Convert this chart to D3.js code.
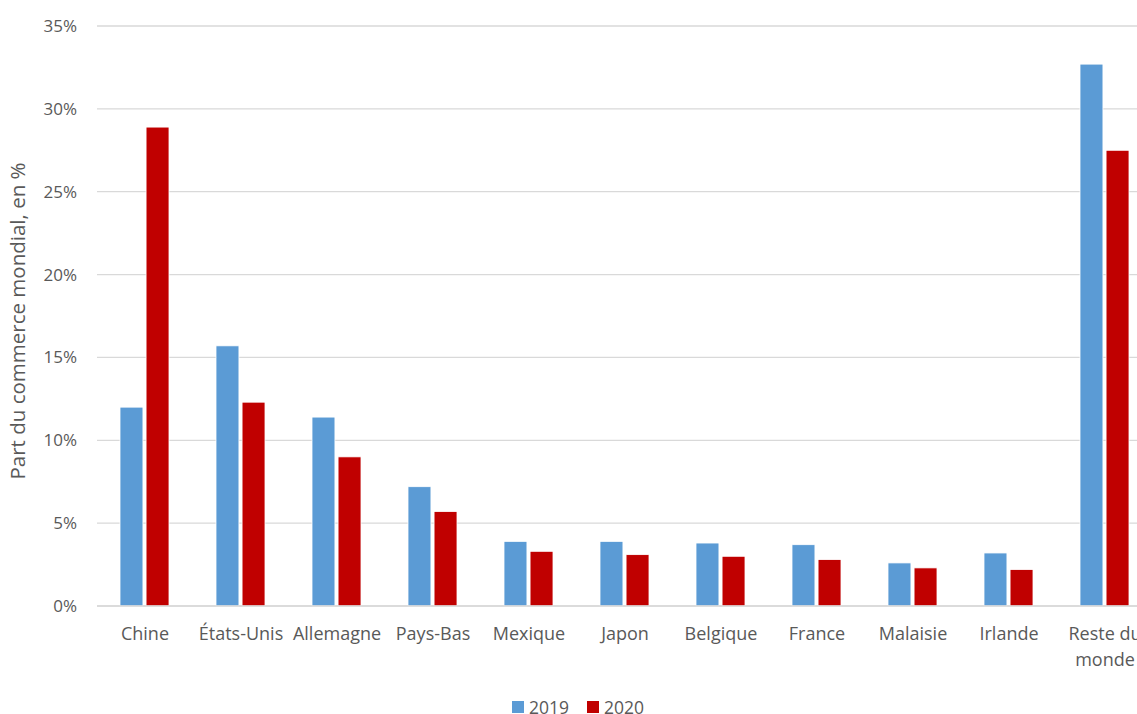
<!DOCTYPE html>
<meta charset="utf-8">
<style>
body { margin: 0; background: #fff; }
text { font-family: "Open Sans", "Noto Sans", sans-serif; fill: #595959; }
.tick text { font-size: 17px; fill: #595959; }
</style>
<svg width="1137" height="714"></svg>
<script src="https://d3js.org/d3.v7.min.js"></script>
<script>
var categories = ["Chine", "États-Unis", "Allemagne", "Pays-Bas", "Mexique", "Japon",
                  "Belgique", "France", "Malaisie", "Irlande", "Reste du monde"];
var years = ["2019", "2020"];
var values2019 = [12.0, 15.7, 11.4, 7.2, 3.9, 3.9, 3.8, 3.7, 2.6, 3.2, 32.7];
var values2020 = [28.9, 12.3, 9.0, 5.7, 3.3, 3.1, 3.0, 2.8, 2.3, 2.2, 27.5];
var yTicks = [0, 5, 10, 15, 20, 25, 30, 35];
var colors = ["#5B9BD5", "#C00000"];

var rows = categories.map((c, i) => ({ cat: c, vals: [values2019[i], values2020[i]] }));

var svg = d3.select("svg"),
    plotLeft = 97, plotTop = 26, plotBottom = 606, plotRight = 1153;

var x = d3.scaleBand()
    .domain(categories)
    .range([plotLeft, plotRight]);

var inner = d3.scaleBand()
    .domain(years)
    .range([23, 72])
    .paddingInner(0.12);

var y = d3.scaleLinear()
    .domain([0, 35])
    .range([plotBottom, plotTop]);

// grid
svg.append("g")
    .selectAll("line")
    .data(yTicks)
    .enter().append("line")
      .attr("x1", plotLeft)
      .attr("x2", plotRight)
      .attr("y1", d => y(d))
      .attr("y2", d => y(d))
      .attr("stroke", "#D9D9D9")
      .attr("stroke-width", 1.3);

// y axis labels
var yAxis = svg.append("g")
    .attr("transform", "translate(" + plotLeft + ",0)")
    .call(d3.axisLeft(y).tickValues(yTicks).tickSize(0).tickPadding(20).tickFormat(d => d + "%"));
yAxis.select(".domain").remove();
yAxis.selectAll(".tick text").attr("font-family", null);

// bars
var groups = svg.append("g")
    .selectAll("g")
    .data(rows)
    .enter().append("g")
      .attr("transform", d => "translate(" + x(d.cat) + ",0)");

groups.selectAll("rect")
    .data(d => d.vals.map((v, i) => ({ year: years[i], v: v, i: i })))
    .enter().append("rect")
      .attr("x", d => inner(d.year))
      .attr("width", inner.bandwidth())
      .attr("y", d => y(d.v))
      .attr("height", d => y(0) - y(d.v))
      .attr("fill", d => colors[d.i])
      .attr("stroke", "#fff")
      .attr("stroke-width", 0.8);

// baseline
svg.append("line")
    .attr("x1", plotLeft).attr("x2", plotRight)
    .attr("y1", y(0)).attr("y2", y(0))
    .attr("stroke", "#D9D9D9").attr("stroke-width", 1.3);

// x labels
var xl = svg.append("g")
    .selectAll("text")
    .data(categories)
    .enter().append("text")
      .attr("x", d => x(d) + x.bandwidth() / 2)
      .attr("y", 640)
      .attr("text-anchor", "middle")
      .attr("font-size", 18);

xl.each(function(d) {
  var t = d3.select(this);
  if (d === "Reste du monde") {
    t.append("tspan").attr("x", x(d) + x.bandwidth() / 2).text("Reste du");
    t.append("tspan").attr("x", x(d) + x.bandwidth() / 2).attr("dy", 26).text("monde");
  } else {
    t.text(d);
  }
});

// y title
svg.append("text")
    .attr("transform", "translate(25," + 321 + ") rotate(-90)")
    .attr("text-anchor", "middle")
    .attr("font-size", 20.5)
    .text("Part du commerce mondial, en %");

// legend
var legend = svg.append("g")
    .selectAll("g")
    .data(years)
    .enter().append("g")
      .attr("transform", (d, i) => "translate(" + (512 + i * 75) + ",701)");
legend.append("rect")
    .attr("width", 12).attr("height", 12)
    .attr("fill", (d, i) => colors[i]);
legend.append("text")
    .attr("x", 17).attr("y", 12.5)
    .attr("font-size", 17.5)
    .text(d => d);
</script>
